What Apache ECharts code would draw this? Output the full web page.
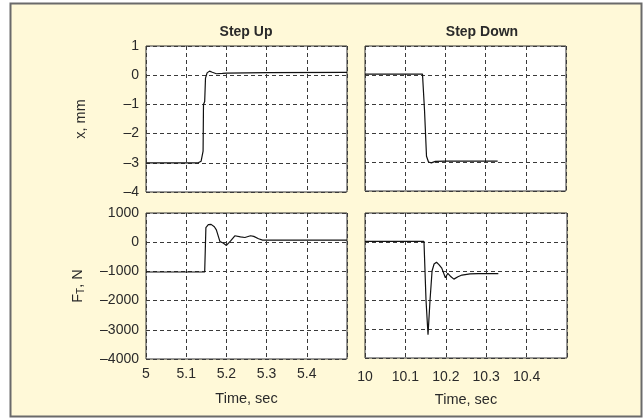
<!DOCTYPE html>
<html>
<head>
  <meta charset="utf-8" />
  <title>Step response</title>
  <script src="https://cdn.jsdelivr.net/npm/echarts@6/dist/echarts.min.js"></script>
  <style>
    html, body { margin: 0; padding: 0; background: #fff; }
  </style>
</head>
<body>
<div id="main" style="width: 644px;height:419px;"></div>
<script type="text/javascript">
  // values: [time, value]
  var upPos = [
    [5.0, -3], [5.13, -3], [5.137, -2.95], [5.142, -2.6], [5.143, -1.0],
    [5.146, -0.9], [5.148, -0.1], [5.152, 0.08], [5.158, 0.14], [5.165, 0.1],
    [5.175, 0.05], [5.19, 0.06], [5.2, 0.07], [5.3, 0.09], [5.5, 0.1]
  ];
  var downPos = [
    [10.0, 0.03], [10.143, 0.03], [10.148, -1.2], [10.153, -2.8],
    [10.158, -3.0], [10.165, -3.03], [10.175, -2.98], [10.2, -2.97], [10.33, -2.97]
  ];
  var upForce = [
    [5.0, -1020], [5.146, -1020], [5.149, 500], [5.155, 600], [5.162, 610],
    [5.17, 530], [5.175, 420], [5.184, 20], [5.192, -30], [5.2, -110],
    [5.21, 40], [5.221, 220], [5.235, 180], [5.246, 160], [5.26, 220],
    [5.268, 200], [5.28, 120], [5.29, 70], [5.35, 70], [5.5, 70]
  ];
  var downForce = [
    [10.0, 20], [10.146, 20], [10.151, -2000], [10.156, -3200], [10.161, -2000],
    [10.166, -1000], [10.171, -760], [10.177, -700], [10.183, -780], [10.19, -900],
    [10.199, -1230], [10.205, -1080], [10.213, -1200], [10.22, -1280], [10.23, -1200],
    [10.24, -1140], [10.26, -1100], [10.28, -1090], [10.33, -1090]
  ];
  var titles = ['Step Up', 'Step Down'];
  var posRange = [-4, 1];
  var forceRange = [-4000, 1000];

  var chartDom = document.getElementById('main');
  var myChart = echarts.init(chartDom);

  var font = 'Liberation Sans, Arial, sans-serif';
  var txt = '#2a2a2a';
  var dash = { show: true, lineStyle: { color: '#3a3a3a', type: [4, 3], width: 1 } };

  function minus(v) {
    return String(v).replace('-', '\u2013');
  }

  var grids = [
    { left: 146, top: 46, width: 201, height: 146 },
    { left: 365, top: 46, width: 201, height: 145 },
    { left: 146, top: 213, width: 201, height: 146 },
    { left: 365, top: 213, width: 202, height: 145 }
  ];
  grids.forEach(function (g) {
    g.show = true;
    g.backgroundColor = '#fff';
    g.borderColor = '#333';
    g.borderWidth = 1;
    g.containLabel = false;
  });

  var xAxes = [];
  var yAxes = [];
  for (var i = 0; i < 4; i++) {
    var start = (i % 2 === 0) ? 5 : 10;
    xAxes.push({
      type: 'value', gridIndex: i, min: start, max: start + 0.5, interval: 0.1,
      axisLine: { show: false }, axisTick: { show: false },
      splitLine: dash,
      axisLabel: {
        show: i >= 2, color: txt, fontSize: 14, fontFamily: font,
        margin: i === 2 ? 8 : 12,
        showMaxLabel: false,
        formatter: function (v) { return String(Math.round(v * 10) / 10); }
      },
      name: i >= 2 ? 'Time, sec' : '',
      nameLocation: 'middle', nameGap: i === 2 ? 32 : 34,
      nameTextStyle: { color: txt, fontSize: 14.5, fontFamily: font }
    });
    var r = i < 2 ? posRange : forceRange;
    var yName = '';
    if (i === 0) yName = 'x, mm';
    if (i === 2) yName = '{a|F}{s|T}{a|, N}';
    yAxes.push({
      type: 'value', gridIndex: i, min: r[0], max: r[1], interval: (r[1] - r[0]) / 5,
      axisLine: { show: false }, axisTick: { show: false },
      splitLine: dash,
      axisLabel: {
        show: i % 2 === 0, color: txt, fontSize: 14, fontFamily: font, margin: 7,
        formatter: minus
      },
      name: yName,
      nameLocation: 'middle', nameGap: i === 0 ? 58 : 60, nameRotate: 90,
      nameTextStyle: {
        color: txt, fontSize: 14.5, fontFamily: font,
        rich: {
          a: { fontSize: 14.5, fontFamily: font, color: txt },
          s: { fontSize: 10, fontFamily: font, color: txt, verticalAlign: 'bottom', padding: [7, 0, 0, 0] }
        }
      }
    });
  }

  var data = [upPos, downPos, upForce, downForce];
  var series = data.map(function (d, i) {
    return {
      type: 'line', xAxisIndex: i, yAxisIndex: i, data: d,
      showSymbol: false, smooth: false, z: 5,
      lineStyle: { color: '#111', width: 1.2 }
    };
  });

  var option = {
    backgroundColor: '#fff',
    animation: false,
    title: [
      { text: titles[0], left: 241, top: 20, textAlign: 'center',
        textStyle: { fontSize: 14, fontWeight: 'bold', color: txt, fontFamily: font } },
      { text: titles[1], left: 477, top: 20, textAlign: 'center',
        textStyle: { fontSize: 14, fontWeight: 'bold', color: txt, fontFamily: font } }
    ],
    graphic: [{
      type: 'rect', z: -10, silent: true,
      shape: { x: 10.5, y: 3.5, width: 631, height: 413 },
      style: { fill: '#fff9d8', stroke: '#6a6a6a', lineWidth: 2 }
    }],
    grid: grids,
    xAxis: xAxes,
    yAxis: yAxes,
    series: series
  };

  option && myChart.setOption(option);
</script>
</body>
</html>
